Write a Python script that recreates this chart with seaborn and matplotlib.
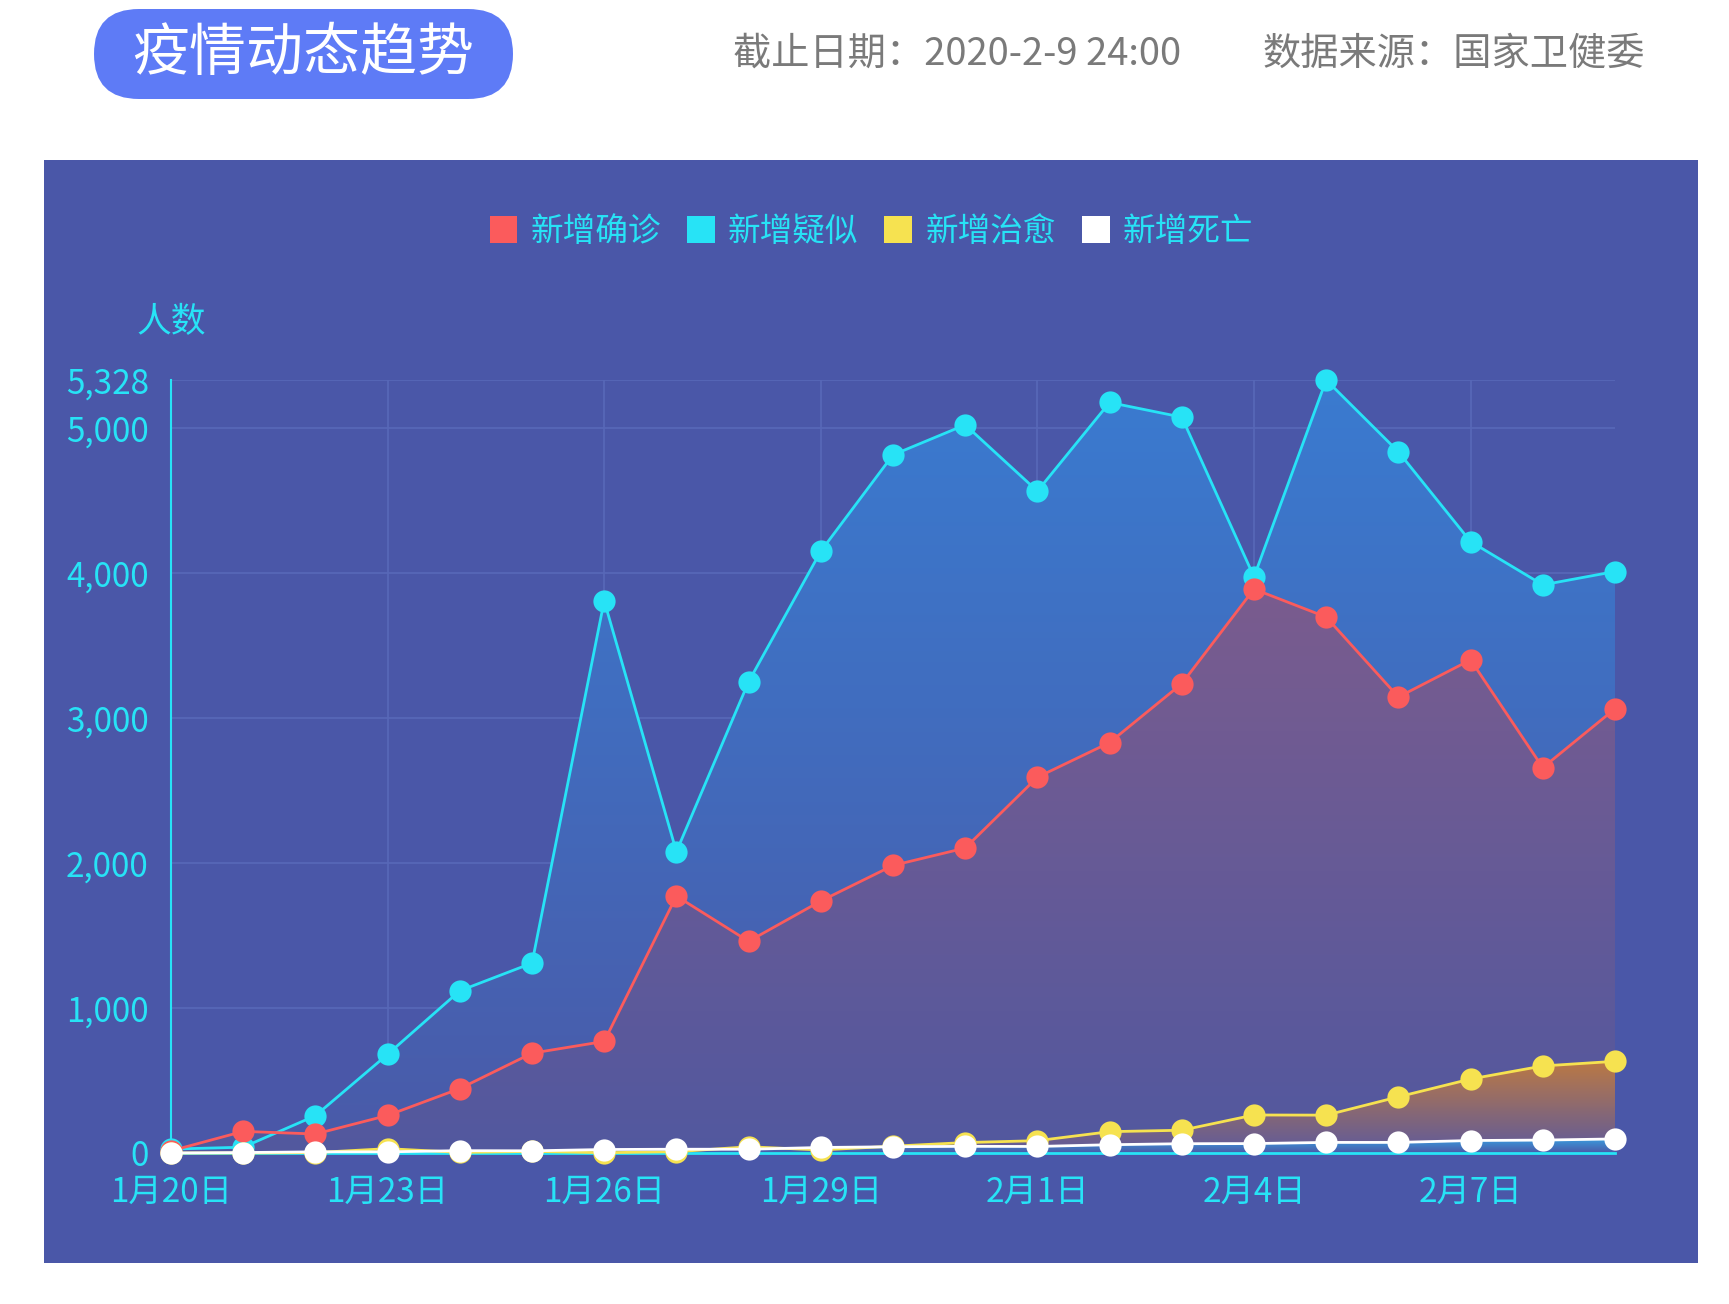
import numpy as np
import pandas as pd
import matplotlib
matplotlib.use("Agg")
import matplotlib.pyplot as plt
from matplotlib.patches import FancyBboxPatch, Rectangle
from matplotlib.colors import to_rgba
import seaborn as sns

# data (2020-01-20 .. 2020-02-09)
dates = ["1月20日", "1月21日", "1月22日", "1月23日", "1月24日", "1月25日", "1月26日",
         "1月27日", "1月28日", "1月29日", "1月30日", "1月31日", "2月1日", "2月2日",
         "2月3日", "2月4日", "2月5日", "2月6日", "2月7日", "2月8日", "2月9日"]
confirmed = [15, 149, 131, 259, 444, 688, 769, 1771, 1459, 1737, 1982, 2102, 2590, 2829,
             3235, 3887, 3694, 3143, 3399, 2656, 3062]
suspected = [27, 40, 257, 680, 1118, 1309, 3806, 2077, 3248, 4148, 4812, 5019, 4562, 5173,
             5072, 3971, 5328, 4833, 4214, 3916, 4008]
cured = [0, 0, 3, 30, 4, 11, 2, 9, 43, 21, 47, 72, 85, 147, 157, 262, 261, 387, 510, 600, 632]
deaths = [0, 3, 8, 8, 16, 15, 24, 26, 26, 38, 43, 46, 45, 57, 64, 65, 73, 73, 86, 89, 97]

series_names = ["新增确诊", "新增疑似", "新增治愈", "新增死亡"]
series_colors = ["#fb5b5c", "#27e3f6", "#f6e250", "#ffffff"]
y_ticks = [0, 1000, 2000, 3000, 4000, 5000, 5328]

df = pd.DataFrame({"idx": np.arange(len(dates)), "新增确诊": confirmed, "新增疑似": suspected,
                   "新增治愈": cured, "新增死亡": deaths})

sns.set_theme(style="white")
plt.rcParams['font.family'] = ['Noto Sans CJK SC', 'DejaVu Sans']

W, H = 1729, 1304
fig = plt.figure(figsize=(W / 100, H / 100), dpi=100)
fig.patch.set_facecolor("white")

# background layer in pixel coordinates
bg = fig.add_axes([0, 0, 1, 1])
bg.set_xlim(0, W)
bg.set_ylim(H, 0)
bg.axis("off")
bg.add_patch(Rectangle((44, 160), 1654, 1103, facecolor="#4a57a8", edgecolor="none"))
bg.add_patch(FancyBboxPatch((94, 9), 419, 90, boxstyle="round,pad=0,rounding_size=45",
                            facecolor="#5e7bf6", edgecolor="none"))
bg.text(303, 54, "疫情动态趋势", color="white", fontsize=41, ha="center", va="center")
bg.text(733, 54, "截止日期：2020-2-9 24:00", color="#7a7a7a", fontsize=27.5, ha="left", va="center")
bg.text(1263, 54, "数据来源：国家卫健委", color="#7a7a7a", fontsize=27.5, ha="left", va="center")
bg.text(171, 323, "人数", color="#27e3f6", fontsize=25, ha="center", va="center")

ax = fig.add_axes([171 / W, 151 / H, (1615 - 171) / W, (1153 - 380) / H])
ax.set_facecolor("none")


def gradient_fill(ax, x, y, top, bottom, zorder):
    poly = ax.fill_between(x, y, 0, facecolor="none", edgecolor="none")
    ctop, cbot = np.array(to_rgba(top)), np.array(to_rgba(bottom))
    t = np.linspace(0, 1, 256)[:, None]
    grad = (cbot * (1 - t) + ctop * t)[:, None, :]
    im = ax.imshow(grad, extent=[min(x), max(x), 0, max(y)], origin="lower",
                   aspect="auto", zorder=zorder, interpolation="bilinear")
    im.set_clip_path(poly.get_paths()[0], transform=ax.transData)


x = df["idx"].values
gradient_fill(ax, x, df["新增疑似"].values, "#3a7bd0", "#4a5aa8", 1)
gradient_fill(ax, x, df["新增确诊"].values, "#7a5c8e", "#52589f", 1.1)
gradient_fill(ax, x, df["新增治愈"].values, "#bb7944", "#5e5a9c", 1.2)
gradient_fill(ax, x, df["新增死亡"].values, "#3a9ee0", "#4a5aa8", 1.3)

for name, color, z in zip(["新增疑似", "新增确诊", "新增治愈", "新增死亡"],
                          ["#27e3f6", "#fb5b5c", "#f6e250", "#ffffff"], [3, 4, 5, 6]):
    sns.lineplot(data=df, x="idx", y=name, ax=ax, color=color, linewidth=2,
                 marker="o", markersize=16, markeredgewidth=0, zorder=z, clip_on=False)

ax.set_xlim(0, len(dates) - 1)
ax.set_ylim(0, 5328)
ax.set_xticks(np.arange(0, len(dates), 3))
ax.set_xticklabels(dates[::3])
ax.set_yticks(y_ticks)
ax.set_yticklabels([f"{v:,}" for v in y_ticks])
ax.set_xlabel("")
ax.set_ylabel("")
ax.tick_params(axis="both", colors="#27e3f6", labelsize=24, length=0)
ax.tick_params(axis="y", pad=16)
ax.tick_params(axis="x", pad=16)
ax.grid(True, color="#5868b8", linewidth=1.2)
ax.set_axisbelow(True)
for s in ["top", "right"]:
    ax.spines[s].set_visible(False)
ax.spines["left"].set_color("#27e3f6")
ax.spines["left"].set_linewidth(1.5)
ax.spines["bottom"].set_color("#27e3f6")
ax.spines["bottom"].set_linewidth(2)
ax.spines["left"].set_zorder(2.5)
ax.spines["bottom"].set_zorder(2.5)

handles = [Rectangle((0, 0), 1, 1, facecolor=c, edgecolor="none") for c in series_colors]
fig.legend(handles, series_names, loc="center", bbox_to_anchor=(0.504, 0.822), ncol=4,
           frameon=False, fontsize=23.5, labelcolor="#27e3f6", handlelength=0.85,
           handleheight=0.9, handletextpad=0.4, columnspacing=0.8)

fig.savefig("out.png", dpi=100)
